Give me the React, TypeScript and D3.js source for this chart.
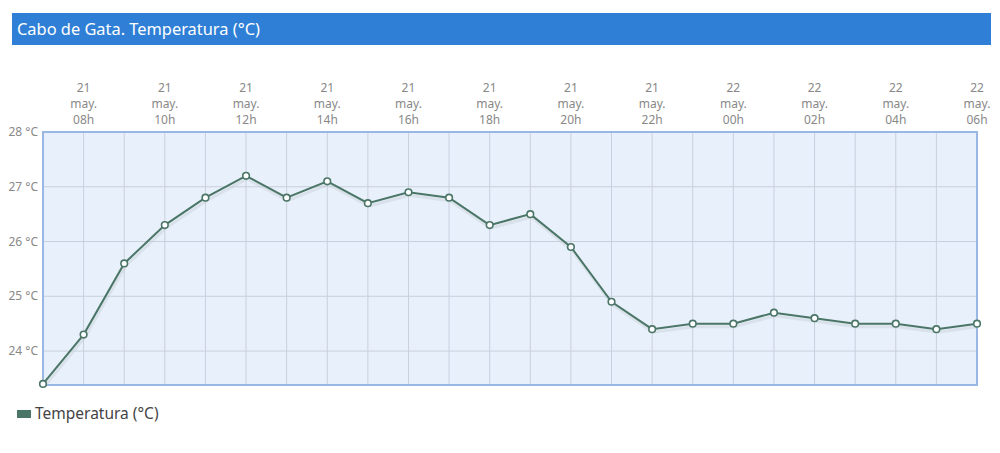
import React, { useRef, useEffect } from 'react';
import * as d3 from 'd3';

// hourly readings, 21 may 07h -> 22 may 06h
const days = ['21', '21', '21', '21', '21', '21', '21', '21', '21', '21', '21', '21', '21', '21', '21', '21', '21',
    '22', '22', '22', '22', '22', '22', '22'];
const hours = ['07h', '08h', '09h', '10h', '11h', '12h', '13h', '14h', '15h', '16h', '17h', '18h', '19h', '20h', '21h', '22h', '23h',
    '00h', '01h', '02h', '03h', '04h', '05h', '06h'];
const temps = [23.4, 24.3, 25.6, 26.3, 26.8, 27.2, 26.8, 27.1, 26.7, 26.9, 26.8, 26.3, 26.5, 25.9, 24.9, 24.4, 24.5,
    24.5, 24.7, 24.6, 24.5, 24.5, 24.4, 24.5];
const yTicks = [24, 25, 26, 27, 28];
const monthLabel = 'may.';
const title = 'Cabo de Gata. Temperatura (°C)';
const seriesName = 'Temperatura (°C)';

const LINE = '#4b7667';
const FONT = '"Noto Sans", "Open Sans", sans-serif';

const App: React.FC = () => {
    const svgRef = useRef<SVGSVGElement | null>(null);

    useEffect(() => {
        if (!svgRef.current) return;
        const svg = d3.select(svgRef.current);
        svg.selectAll('*').remove();

        const width = 1000;
        const margin = { top: 132, right: 23, bottom: 68, left: 43 };
        const plotBottom = 385;
        const innerWidth = width - margin.left - margin.right;
        const innerHeight = plotBottom - margin.top;

        // title bar
        svg.append('rect')
            .attr('x', 12).attr('y', 13).attr('width', 979).attr('height', 32)
            .attr('fill', '#2f7fd6');
        svg.append('text')
            .attr('x', 17).attr('y', 35)
            .attr('fill', '#fff')
            .style('font-family', FONT)
            .style('font-size', '16.4px')
            .text(title);

        const xScale = d3.scalePoint<number>()
            .domain(d3.range(temps.length))
            .range([0, innerWidth]);

        const yScale = d3.scaleLinear()
            .domain([23.38, 28])
            .range([innerHeight, 0]);

        const g = svg.append('g')
            .attr('transform', `translate(${margin.left},${margin.top})`);

        g.append('rect')
            .attr('width', innerWidth).attr('height', innerHeight)
            .attr('fill', '#e8f0fb');

        // vertical grid
        g.selectAll('line.vg')
            .data(d3.range(temps.length))
            .enter()
            .append('line')
            .attr('x1', d => xScale(d) ?? 0).attr('x2', d => xScale(d) ?? 0)
            .attr('y1', 0).attr('y2', innerHeight)
            .attr('stroke', '#c9d0dd').attr('stroke-width', 1);

        // horizontal grid
        g.selectAll('line.hg')
            .data(yTicks)
            .enter()
            .append('line')
            .attr('x1', 0).attr('x2', innerWidth)
            .attr('y1', d => yScale(d)).attr('y2', d => yScale(d))
            .attr('stroke', '#c9d0dd').attr('stroke-width', 1);

        // border
        g.append('rect')
            .attr('width', innerWidth).attr('height', innerHeight)
            .attr('fill', 'none')
            .attr('stroke', '#9ab6e2').attr('stroke-width', 2);

        // y labels
        g.selectAll('text.yl')
            .data(yTicks)
            .enter()
            .append('text')
            .attr('x', -5).attr('y', d => yScale(d) + 4)
            .attr('text-anchor', 'end')
            .attr('fill', '#888')
            .style('font-family', FONT)
            .style('font-size', '12px')
            .text(d => `${d} °C`);

        // x labels, every 2 hours
        const labelIdx = d3.range(1, temps.length, 2);
        const xl = g.selectAll('text.xl')
            .data(labelIdx)
            .enter()
            .append('text')
            .attr('text-anchor', 'middle')
            .attr('fill', '#888')
            .style('font-family', FONT)
            .style('font-size', '12px');
        [0, 1, 2].forEach(row => {
            xl.append('tspan')
                .attr('x', d => xScale(d) ?? 0)
                .attr('y', -40 + row * 16)
                .text(d => (row === 0 ? days[d] : row === 1 ? monthLabel : hours[d]));
        });

        const line = d3.line<number>()
            .x((_, i) => xScale(i) ?? 0)
            .y(d => yScale(d));

        // soft shadow
        g.append('path')
            .datum(temps)
            .attr('d', line)
            .attr('transform', 'translate(1,3)')
            .attr('fill', 'none')
            .attr('stroke', '#c3ccd3').attr('stroke-width', 3).attr('opacity', 0.4);

        g.append('path')
            .datum(temps)
            .attr('d', line)
            .attr('fill', 'none')
            .attr('stroke', LINE).attr('stroke-width', 2);

        g.selectAll('circle')
            .data(temps)
            .enter()
            .append('circle')
            .attr('cx', (_, i) => xScale(i) ?? 0)
            .attr('cy', d => yScale(d))
            .attr('r', 3.3)
            .attr('fill', '#fff')
            .attr('stroke', LINE).attr('stroke-width', 1.6);

        // legend
        svg.append('rect')
            .attr('x', 17).attr('y', 410).attr('width', 14).attr('height', 8)
            .attr('fill', LINE);
        svg.append('text')
            .attr('x', 35).attr('y', 419)
            .attr('fill', '#444')
            .style('font-family', FONT)
            .style('font-size', '15.5px')
            .text(seriesName);
    }, []);

    return (
        <svg
            ref={svgRef}
            width={1000}
            height={453}
            style={{ position: 'absolute', left: 0, top: 0, background: '#fff' }}
        />
    );
};

export default App;
